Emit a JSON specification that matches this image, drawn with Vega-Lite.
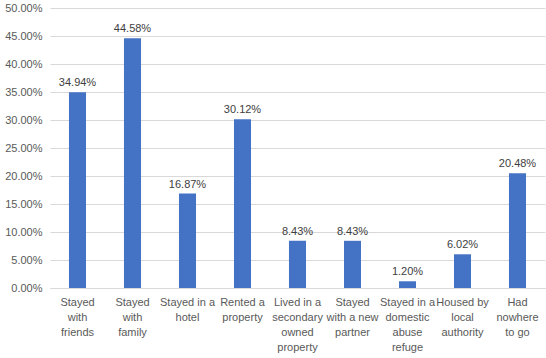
{
  "$schema": "https://vega.github.io/schema/vega-lite/v6.json",
  "width": 495,
  "height": 280,
  "autosize": {"type": "none"},
  "padding": {"left": 50, "top": 8, "right": 1, "bottom": 70},
  "background": "white",
  "data": {"values": [
    {"cat": "Stayed|with|friends", "v": 0.3494},
    {"cat": "Stayed|with|family", "v": 0.4458},
    {"cat": "Stayed in a|hotel", "v": 0.1687},
    {"cat": "Rented a|property", "v": 0.3012},
    {"cat": "Lived in a|secondary|owned|property", "v": 0.0843},
    {"cat": "Stayed|with a new|partner", "v": 0.0843},
    {"cat": "Stayed in a|domestic|abuse|refuge", "v": 0.012},
    {"cat": "Housed by|local|authority", "v": 0.0602},
    {"cat": "Had|nowhere|to go", "v": 0.2048}
  ]},
  "config": {
    "view": {"stroke": null},
    "font": "Liberation Sans"
  },
  "encoding": {
    "x": {
      "field": "cat", "type": "nominal", "sort": null,
      "scale": {"paddingInner": 0.69, "paddingOuter": 0.345},
      "axis": {
        "title": null, "labelAngle": 0, "ticks": false,
        "domainColor": "#d9d9d9", "labelColor": "#595959", "labelFontSize": 11,
        "labelExpr": "split(datum.label, '|')", "labelLineHeight": 15,
        "labelPadding": 8, "labelLimit": 0
      }
    },
    "y": {
      "field": "v", "type": "quantitative",
      "scale": {"domain": [0, 0.5], "nice": false},
      "axis": {
        "title": null, "format": ".2%", "values": [0,0.05,0.1,0.15,0.2,0.25,0.3,0.35,0.4,0.45,0.5],
        "domain": false, "ticks": false, "gridColor": "#d9d9d9",
        "labelColor": "#595959", "labelFontSize": 11, "labelPadding": 8
      }
    }
  },
  "layer": [
    {"mark": {"type": "bar", "color": "#4472C4"}},
    {"mark": {"type": "text", "dy": -9, "fontSize": 11, "color": "#404040"},
     "encoding": {"text": {"field": "v", "type": "quantitative", "format": ".2%"}}}
  ]
}
